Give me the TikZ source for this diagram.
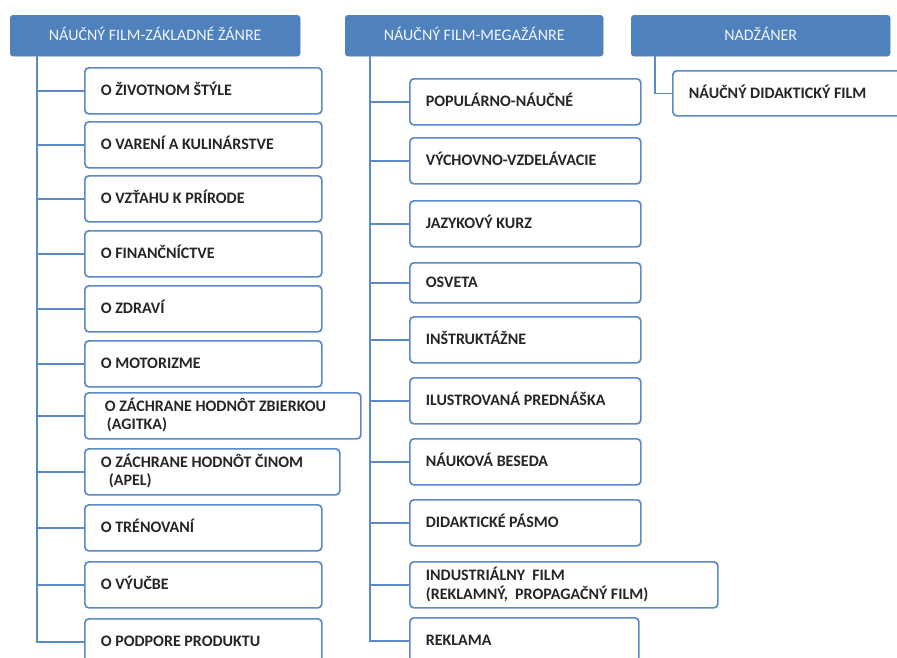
\documentclass[tikz,border=0pt]{standalone}
\usepackage{fontspec}
\setmainfont{Carlito}
\definecolor{hblue}{HTML}{4F81BD}
\definecolor{lblue}{HTML}{5B8AC6}
\begin{document}
\begin{tikzpicture}[x=1pt,y=-1pt,
  hdr/.style={fill=hblue, draw=hblue, rounded corners=3pt, text=white!92!hblue, font=\fontsize{16}{18}\selectfont, inner sep=0pt, text height=10pt, text depth=0pt, anchor=north west},
  box/.style={draw=lblue, line width=1.7pt, fill=white, rounded corners=4pt, font=\bfseries\fontsize{16}{18}\selectfont, text=black!85, align=left, inner ysep=0pt, inner xsep=16pt, anchor=north west, execute at begin node={\spaceskip=0pt\xspaceskip=0pt\relax}},
  one/.style={text height=10pt, text depth=0pt},
  two/.style={text height=10pt, text depth=#1},
  conn/.style={draw=lblue, line width=1.7pt}]
\useasboundingbox (0,0) rectangle (897,657);
\clip (0,0) rectangle (897,657);
\fill[white] (0,0) rectangle (897,657);
% headers
\node[hdr, minimum width=290pt, minimum height=41pt] (h1) at (10,15) {NÁUČNÝ FILM-ZÁKLADNÉ ŽÁNRE};
\node[hdr, minimum width=258pt, minimum height=41pt] (h2) at (345,15) {NÁUČNÝ FILM-MEGAŽÁNRE};
\node[hdr, minimum width=259pt, minimum height=41pt] (h3) at (631,15) {NADŽÁNER};
% left column
\newcommand{\lboxnode}[3]{\node[box, one, text width=205pt, minimum height=46pt] (#1) at (84,#2) {#3};}
\lboxnode{a1}{67}{O ŽIVOTNOM ŠTÝLE}
\lboxnode{a2}{121}{O VARENÍ A KULINÁRSTVE}
\lboxnode{a3}{175}{O VZŤAHU K PRÍRODE}
\lboxnode{a4}{230}{O FINANČNÍCTVE}
\lboxnode{a5}{285}{O ZDRAVÍ}
\lboxnode{a6}{340}{O MOTORIZME}
\node[box, two=18pt, text width=236pt, inner xsep=20pt, minimum height=46pt] (a7) at (84,392) {O ZÁCHRANE HODNÔT ZBIERKOU\\\hspace{2pt}(AGITKA)};
\node[box, two=18pt, text width=223pt, minimum height=46pt] (a8) at (84,448) {O ZÁCHRANE HODNÔT ČINOM\\\hspace{8pt}(APEL)};
\lboxnode{a9}{504}{O TRÉNOVANÍ}
\lboxnode{a10}{561}{O VÝUČBE}
\lboxnode{a11}{618}{O PODPORE PRODUKTU}
\coordinate (ta) at (37,56);
\foreach \n in {a1,a2,a3,a4,a5,a6,a7,a8,a9,a10,a11} \draw[conn] (ta) |- (\n.west);
% middle column
\newcommand{\mboxnode}[4]{\node[box, one, text width=199pt, minimum height=#3] (#1) at (409,#2) {#4};}
\mboxnode{m1}{78}{46pt}{POPULÁRNO-NÁUČNÉ}
\mboxnode{m2}{137}{46pt}{VÝCHOVNO-VZDELÁVACIE}
\mboxnode{m3}{200}{46pt}{JAZYKOVÝ KURZ}
\mboxnode{m4}{262}{40pt}{OSVETA}
\mboxnode{m5}{316}{46pt}{INŠTRUKTÁŽNE}
\mboxnode{m6}{377}{46pt}{ILUSTROVANÁ PREDNÁŠKA}
\mboxnode{m7}{438}{46pt}{NÁUKOVÁ BESEDA}
\mboxnode{m8}{499}{46pt}{DIDAKTICKÉ PÁSMO}
\node[box, two=19.5pt, text width=276pt, minimum height=46pt, font=\bfseries\fontsize{16}{19.5}\selectfont] (m9) at (409,561) {INDUSTRIÁLNY~ FILM\\(REKLAMNÝ,~ PROPAGAČNÝ FILM)};
\node[box, one, text width=197pt, minimum height=46pt] (m10) at (409,617) {REKLAMA};
\coordinate (tm) at (370,56);
\foreach \n in {m1,m2,m3,m4,m5,m6,m7,m8,m9,m10} \draw[conn] (tm) |- (\n.west);
% right
\node[box, one, text width=228pt, minimum height=45pt] (r1) at (672,70) {NÁUČNÝ DIDAKTICKÝ FILM};
\coordinate (tr) at (655,56);
\draw[conn] (tr) |- (r1.west);
\end{tikzpicture}
\end{document}
